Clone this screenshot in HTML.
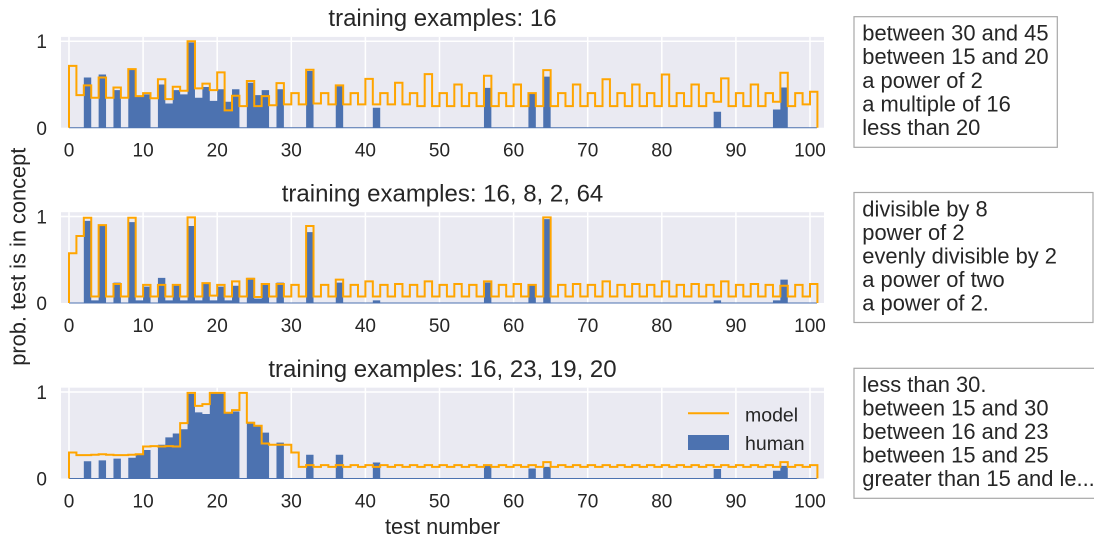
<!DOCTYPE html>
<html>
<head>
<meta charset="utf-8">
<style>
  html,body{margin:0;padding:0;background:#fff;}
  svg{display:block;}
  text{font-family:"Liberation Sans",Arial,sans-serif;fill:#262626;}
  .tick{font-size:19px;}
  .ttl{font-size:24px;}
  .lbl{font-size:21.8px;}
  .box{font-size:21.9px;}
  .leg{font-size:19.5px;}
  .grid{stroke:#fff;stroke-width:1.5;}
  .orng{fill:none;stroke:#ffa500;stroke-width:2;vector-effect:non-scaling-stroke;stroke-linejoin:miter;}
  .bars{fill:#4c72b0;}
</style>
</head>
<body>
<svg width="1094" height="539" viewBox="0 0 1094 539" xmlns="http://www.w3.org/2000/svg">
  <rect x="0" y="0" width="1094" height="539" fill="#fff"/>

  <!-- ================= PLOT 1 ================= -->
  <rect x="61" y="36.9" width="763" height="90.8" fill="#eaeaf2"/>
  <g class="grid">
    <line x1="61" y1="41.2" x2="824" y2="41.2"/>
    <line x1="69" y1="36.9" x2="69" y2="127.7"/>
    <line x1="143.1" y1="36.9" x2="143.1" y2="127.7"/>
    <line x1="217.2" y1="36.9" x2="217.2" y2="127.7"/>
    <line x1="291.3" y1="36.9" x2="291.3" y2="127.7"/>
    <line x1="365.4" y1="36.9" x2="365.4" y2="127.7"/>
    <line x1="439.5" y1="36.9" x2="439.5" y2="127.7"/>
    <line x1="513.6" y1="36.9" x2="513.6" y2="127.7"/>
    <line x1="587.7" y1="36.9" x2="587.7" y2="127.7"/>
    <line x1="661.8" y1="36.9" x2="661.8" y2="127.7"/>
    <line x1="735.9" y1="36.9" x2="735.9" y2="127.7"/>
    <line x1="810" y1="36.9" x2="810" y2="127.7"/>
  </g>
  <g transform="translate(69,127.7) scale(7.41,-86.5)">
    <path class="bars" d="M2 0h1v.58h-1zM4 0h1v.615h-1zM6 0h1v.435h-1zM8 0h1v.68h-1zM9 0h1v.36h-1zM10 0h1v.385h-1zM12 0h1v.5h-1zM13 0h1v.28h-1zM14 0h1v.435h-1zM15 0h1v.385h-1zM16 0h1v.985h-1zM17 0h1v.346h-1zM18 0h1v.47h-1zM19 0h1v.31h-1zM20 0h1v.445h-1zM21 0h1v.3h-1zM22 0h1v.445h-1zM24 0h1v.52h-1zM25 0h1v.377h-1zM26 0h1v.435h-1zM28 0h1v.445h-1zM32 0h1v.655h-1zM36 0h1v.48h-1zM41 0h1v.23h-1zM56 0h1v.46h-1zM62 0h1v.39h-1zM64 0h1v.59h-1zM87 0h1v.185h-1zM95 0h1v.21h-1zM96 0h1v.465h-1z"/>
  </g>
  <line x1="69" y1="127.7" x2="817" y2="127.7" stroke="#4c72b0" stroke-width="1"/>
  <g transform="translate(69,127.7) scale(7.41,-86.5)">
    <path class="orng" d="M0,0V.715H1V.377H2V.49H3V.346H4V.58H5V.346H6V.465H7V.346H8V.677H9V.365H10V.4H11V.34H12V.56H13V.33H14V.473H15V.427H16V1H17V.454H18V.51H19V.435H20V.64H21V.2H22V.37H23V.25H24V.54H25V.25H26V.365H27V.26H28V.515H29V.27H30V.4H31V.27H32V.67H33V.28H34V.4H35V.27H36V.49H37V.27H38V.4H39V.27H40V.565H41V.27H42V.4H43V.27H44V.52H45V.27H46V.4H47V.25H48V.62H49V.25H50V.4H51V.25H52V.5H53V.25H54V.4H55V.25H56V.6H57V.25H58V.4H59V.25H60V.5H61V.25H62V.4H63V.25H64V.665H65V.25H66V.4H67V.25H68V.5H69V.25H70V.4H71V.25H72V.56H73V.25H74V.4H75V.25H76V.5H77V.25H78V.4H79V.25H80V.615H81V.25H82V.4H83V.25H84V.5H85V.25H86V.4H87V.3H88V.57H89V.25H90V.4H91V.25H92V.5H93V.25H94V.4H95V.3H96V.635H97V.25H98V.4H99V.27H100V.415H101V0"/>
  </g>
  <text class="ttl" x="442.5" y="26" text-anchor="middle">training examples: 16</text>
  <text class="tick" x="47" y="48.2" text-anchor="end">1</text>
  <text class="tick" x="47" y="134.9" text-anchor="end">0</text>
  <g class="tick" text-anchor="middle">
    <text x="69" y="156.5">0</text><text x="143.1" y="156.5">10</text><text x="217.2" y="156.5">20</text>
    <text x="291.3" y="156.5">30</text><text x="365.4" y="156.5">40</text><text x="439.5" y="156.5">50</text>
    <text x="513.6" y="156.5">60</text><text x="587.7" y="156.5">70</text><text x="661.8" y="156.5">80</text>
    <text x="735.9" y="156.5">90</text><text x="810" y="156.5">100</text>
  </g>

  <!-- ================= PLOT 2 ================= -->
  <rect x="61" y="212.2" width="763" height="90.8" fill="#eaeaf2"/>
  <g class="grid">
    <line x1="61" y1="216.5" x2="824" y2="216.5"/>
    <line x1="69" y1="212.2" x2="69" y2="303"/>
    <line x1="143.1" y1="212.2" x2="143.1" y2="303"/>
    <line x1="217.2" y1="212.2" x2="217.2" y2="303"/>
    <line x1="291.3" y1="212.2" x2="291.3" y2="303"/>
    <line x1="365.4" y1="212.2" x2="365.4" y2="303"/>
    <line x1="439.5" y1="212.2" x2="439.5" y2="303"/>
    <line x1="513.6" y1="212.2" x2="513.6" y2="303"/>
    <line x1="587.7" y1="212.2" x2="587.7" y2="303"/>
    <line x1="661.8" y1="212.2" x2="661.8" y2="303"/>
    <line x1="735.9" y1="212.2" x2="735.9" y2="303"/>
    <line x1="810" y1="212.2" x2="810" y2="303"/>
  </g>
  <g transform="translate(69,303) scale(7.41,-86.5)">
    <path class="bars" d="M2 0h1v.95h-1zM3 0h1v.03h-1zM4 0h1v.9h-1zM6 0h1v.235h-1zM8 0h1v.935h-1zM9 0h1v.03h-1zM10 0h1v.19h-1zM12 0h1v.29h-1zM13 0h1v.03h-1zM14 0h1v.215h-1zM15 0h1v.03h-1zM16 0h1v.89h-1zM17 0h1v.03h-1zM18 0h1v.235h-1zM19 0h1v.03h-1zM20 0h1v.19h-1zM21 0h1v.03h-1zM22 0h1v.2h-1zM24 0h1v.29h-1zM25 0h1v.05h-1zM26 0h1v.215h-1zM28 0h1v.235h-1zM32 0h1v.82h-1zM36 0h1v.235h-1zM41 0h1v.03h-1zM56 0h1v.235h-1zM62 0h1v.21h-1zM64 0h1v.97h-1zM87 0h1v.03h-1zM95 0h1v.03h-1zM96 0h1v.27h-1z"/>
  </g>
  <line x1="69" y1="303" x2="817" y2="303" stroke="#4c72b0" stroke-width="1"/>
  <g transform="translate(69,303) scale(7.41,-86.5)">
    <path class="orng" d="M0,0V.575H1V.775H2V.985H3V.075H4V.9H5V.075H6V.22H7V.075H8V.985H9V.075H10V.21H11V.075H12V.21H13V.075H14V.21H15V.075H16V.99H17V.075H18V.23H19V.085H20V.21H21V.075H22V.25H23V.075H24V.28H25V.07H26V.22H27V.075H28V.22H29V.075H30V.21H31V.075H32V.89H33V.075H34V.21H35V.075H36V.27H37V.075H38V.21H39V.075H40V.25H41V.075H42V.21H43V.075H44V.22H45V.075H46V.21H47V.075H48V.25H49V.075H50V.21H51V.075H52V.22H53V.075H54V.21H55V.075H56V.25H57V.075H58V.21H59V.075H60V.22H61V.075H62V.21H63V.075H64V.99H65V.075H66V.21H67V.075H68V.22H69V.075H70V.21H71V.075H72V.25H73V.075H74V.21H75V.075H76V.22H77V.075H78V.21H79V.075H80V.25H81V.075H82V.21H83V.075H84V.22H85V.075H86V.21H87V.075H88V.25H89V.075H90V.21H91V.075H92V.22H93V.075H94V.21H95V.075H96V.2H97V.075H98V.21H99V.075H100V.22H101V0"/>
  </g>
  <text class="ttl" x="442.5" y="201.3" text-anchor="middle">training examples: 16, 8, 2, 64</text>
  <text class="tick" x="47" y="223.5" text-anchor="end">1</text>
  <text class="tick" x="47" y="310.2" text-anchor="end">0</text>
  <g class="tick" text-anchor="middle">
    <text x="69" y="331.8">0</text><text x="143.1" y="331.8">10</text><text x="217.2" y="331.8">20</text>
    <text x="291.3" y="331.8">30</text><text x="365.4" y="331.8">40</text><text x="439.5" y="331.8">50</text>
    <text x="513.6" y="331.8">60</text><text x="587.7" y="331.8">70</text><text x="661.8" y="331.8">80</text>
    <text x="735.9" y="331.8">90</text><text x="810" y="331.8">100</text>
  </g>

  <!-- ================= PLOT 3 ================= -->
  <rect x="61" y="387.7" width="763" height="90.8" fill="#eaeaf2"/>
  <g class="grid">
    <line x1="61" y1="392" x2="824" y2="392"/>
    <line x1="69" y1="387.7" x2="69" y2="478.5"/>
    <line x1="143.1" y1="387.7" x2="143.1" y2="478.5"/>
    <line x1="217.2" y1="387.7" x2="217.2" y2="478.5"/>
    <line x1="291.3" y1="387.7" x2="291.3" y2="478.5"/>
    <line x1="365.4" y1="387.7" x2="365.4" y2="478.5"/>
    <line x1="439.5" y1="387.7" x2="439.5" y2="478.5"/>
    <line x1="513.6" y1="387.7" x2="513.6" y2="478.5"/>
    <line x1="587.7" y1="387.7" x2="587.7" y2="478.5"/>
    <line x1="661.8" y1="387.7" x2="661.8" y2="478.5"/>
    <line x1="735.9" y1="387.7" x2="735.9" y2="478.5"/>
    <line x1="810" y1="387.7" x2="810" y2="478.5"/>
  </g>
  <g transform="translate(69,478.5) scale(7.41,-86.5)">
    <path class="bars" d="M2 0h1v.2h-1zM4 0h1v.21h-1zM6 0h1v.23h-1zM8 0h1v.24h-1zM9 0h1v.28h-1zM10 0h1v.33h-1zM12 0h1v.39h-1zM13 0h1v.475h-1zM14 0h1v.52h-1zM15 0h1v.57h-1zM16 0h1v.98h-1zM17 0h1v.765h-1zM18 0h1v.745h-1zM19 0h2v.985h-2zM21 0h1v.765h-1zM22 0h1v.775h-1zM24 0h1v.655h-1zM25 0h1v.605h-1zM26 0h1v.53h-1zM28 0h1v.415h-1zM32 0h1v.275h-1zM36 0h1v.275h-1zM41 0h1v.185h-1zM56 0h1v.15h-1zM62 0h1v.115h-1zM64 0h1v.135h-1zM87 0h1v.11h-1zM95 0h1v.09h-1zM96 0h1v.146h-1z"/>
  </g>
  <line x1="69" y1="478.5" x2="817" y2="478.5" stroke="#4c72b0" stroke-width="1"/>
  <g transform="translate(69,478.5) scale(7.41,-86.5)">
    <path class="orng" d="M0,0V.3H1V.27H2V.27H3V.275H4V.28H5V.275H6V.27H7V.27H8V.275H9V.28H10V.37H11V.375H12V.37H13V.375H14V.37H15V.64H16V.99H17V.84H18V.86H19V.99H20V.99H21V.76H22V.79H23V.99H24V.645H25V.61H26V.405H27V.39H28V.39H29V.39H30V.3H31V.135H32V.155H33V.135H34V.155H35V.135H36V.155H37V.135H38V.155H39V.135H40V.155H41V.135H42V.155H43V.135H44V.155H45V.135H46V.155H47V.135H48V.155H49V.135H50V.155H51V.135H52V.155H53V.135H54V.155H55V.135H56V.155H57V.135H58V.155H59V.135H60V.155H61V.135H62V.155H63V.135H64V.19H65V.135H66V.155H67V.135H68V.155H69V.135H70V.155H71V.135H72V.155H73V.135H74V.155H75V.135H76V.155H77V.135H78V.155H79V.135H80V.155H81V.135H82V.155H83V.135H84V.155H85V.135H86V.155H87V.135H88V.155H89V.135H90V.155H91V.135H92V.155H93V.135H94V.155H95V.135H96V.19H97V.135H98V.155H99V.135H100V.155H101V0"/>
  </g>
  <text class="ttl" x="442.5" y="376.8" text-anchor="middle">training examples: 16, 23, 19, 20</text>
  <text class="tick" x="47" y="399" text-anchor="end">1</text>
  <text class="tick" x="47" y="485.7" text-anchor="end">0</text>
  <g class="tick" text-anchor="middle">
    <text x="69" y="507.5">0</text><text x="143.1" y="507.5">10</text><text x="217.2" y="507.5">20</text>
    <text x="291.3" y="507.5">30</text><text x="365.4" y="507.5">40</text><text x="439.5" y="507.5">50</text>
    <text x="513.6" y="507.5">60</text><text x="587.7" y="507.5">70</text><text x="661.8" y="507.5">80</text>
    <text x="735.9" y="507.5">90</text><text x="810" y="507.5">100</text>
  </g>

  <!-- legend -->
  <line x1="688" y1="413.3" x2="729" y2="413.3" stroke="#ffa500" stroke-width="2"/>
  <rect x="688" y="435" width="41" height="15" fill="#4c72b0"/>
  <text class="leg" x="745" y="421.5">model</text>
  <text class="leg" x="745" y="450">human</text>

  <!-- axis labels -->
  <text class="lbl" x="442.5" y="534" text-anchor="middle">test number</text>
  <text class="lbl" transform="translate(25.5,256.7) rotate(-90)" text-anchor="middle">prob. test is in concept</text>

  <!-- text boxes -->
  <rect x="854" y="16.7" width="203.3" height="130.6" fill="#fff" stroke="#a8a8a8" stroke-width="1.2"/>
  <g class="box">
    <text x="862.3" y="40.7">between 30 and 45</text>
    <text x="862.3" y="64.2">between 15 and 20</text>
    <text x="862.3" y="87.8">a power of 2</text>
    <text x="862.3" y="111.3">a multiple of 16</text>
    <text x="862.3" y="134.9">less than 20</text>
  </g>

  <rect x="854" y="192.5" width="239" height="130" fill="#fff" stroke="#a8a8a8" stroke-width="1.2"/>
  <g class="box">
    <text x="862.3" y="216.4">divisible by 8</text>
    <text x="862.3" y="239.9">power of 2</text>
    <text x="862.3" y="263.5">evenly divisible by 2</text>
    <text x="862.3" y="287">a power of two</text>
    <text x="862.3" y="310.6">a power of 2.</text>
  </g>

  <rect x="854" y="368.3" width="260" height="130" fill="#fff" stroke="#a8a8a8" stroke-width="1.2"/>
  <g class="box">
    <text x="862.3" y="391.9">less than 30.</text>
    <text x="862.3" y="415.4">between 15 and 30</text>
    <text x="862.3" y="439">between 16 and 23</text>
    <text x="862.3" y="462.5">between 15 and 25</text>
    <text x="862.3" y="486.1">greater than 15 and le...</text>
  </g>
</svg>
</body>
</html>
